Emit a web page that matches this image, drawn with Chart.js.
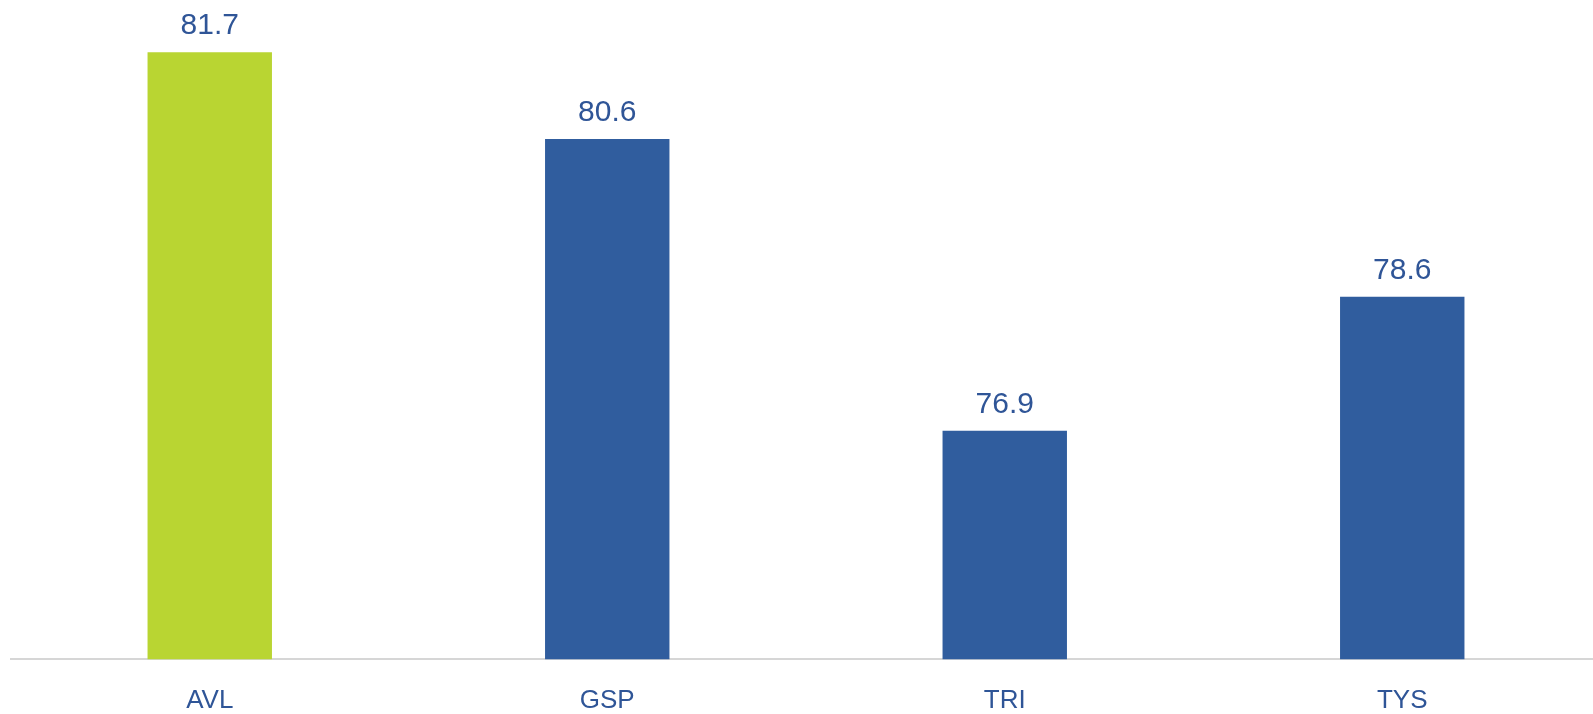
<!DOCTYPE html>
<html>
<head>
<meta charset="utf-8">
<script src="https://cdn.jsdelivr.net/npm/chart.js@4"></script>
<style>
  html, body { margin: 0; padding: 0; overflow: hidden; background: #fff; }
  #wrap { width: 1601px; height: 714px; position: relative; }
</style>
</head>
<body>
<div id="wrap"><canvas id="bar-chart"></canvas></div>
<script>
var categories = ["AVL", "GSP", "TRI", "TYS"];
var values = [81.7, 80.6, 76.9, 78.6];
var barColors = ["#b9d532", "#305d9e", "#305d9e", "#305d9e"];
var yMin = 74;
var yMax = 82.3;

// draws the value above every bar
var valueLabels = {
  id: 'valueLabels',
  afterDatasetsDraw(chart) {
    var ctx = chart.ctx;
    var meta = chart.getDatasetMeta(0);
    ctx.save();
    ctx.font = '30px "Liberation Sans", Arial, sans-serif';
    ctx.fillStyle = '#2f5597';
    ctx.textAlign = 'center';
    ctx.textBaseline = 'alphabetic';
    meta.data.forEach(function(bar, i) {
      ctx.fillText(values[i].toFixed(1), bar.x, bar.y - 18);
    });
    ctx.restore();
  }
};

new Chart(document.getElementById("bar-chart"), {
  type: 'bar',
  data: {
    labels: categories,
    datasets: [{
      data: values,
      backgroundColor: barColors,
      categoryPercentage: 1,
      barPercentage: 0.313
    }]
  },
  options: {
    responsive: true,
    maintainAspectRatio: false,
    animation: false,
    layout: { padding: { left: 11, top: 5, right: 0, bottom: -27.5 } },
    plugins: {
      legend: { display: false },
      tooltip: { enabled: false }
    },
    scales: {
      x: {
        grid: { display: false, drawTicks: false },
        border: { display: true, color: '#d6d6d6', width: 2 },
        ticks: {
          padding: 25.5,
          color: '#2f5597',
          font: { family: '"Liberation Sans", Arial, sans-serif', size: 26, lineHeight: 1.2 }
        }
      },
      y: {
        display: false,
        min: yMin,
        max: yMax
      }
    }
  },
  plugins: [valueLabels]
});
</script>
</body>
</html>
